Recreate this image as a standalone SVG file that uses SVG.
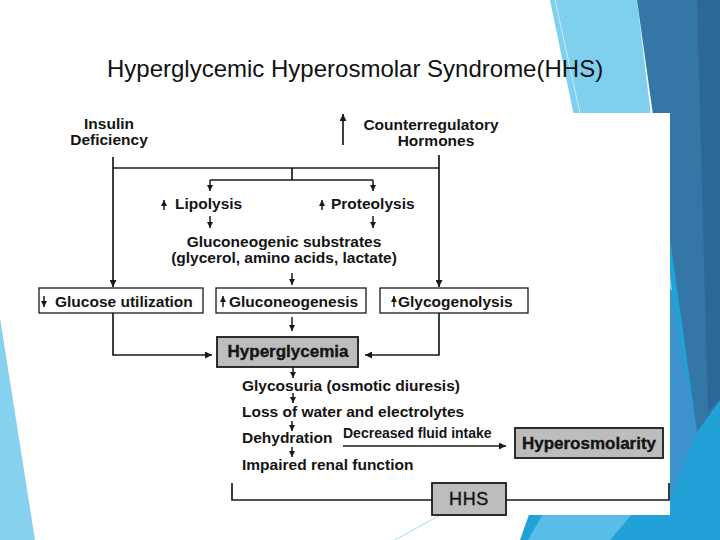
<svg xmlns="http://www.w3.org/2000/svg" width="720" height="540" viewBox="0 0 720 540">
<defs>
<style>
.t{font-family:"Liberation Sans",Arial,sans-serif;font-weight:bold;font-size:15.5px;fill:#141414}
.c{text-anchor:middle}
.big{font-size:17px;stroke:#141414;stroke-width:0.35}
.sm{font-size:14px}
.hhs{font-weight:normal;font-size:18px;stroke:#141414;stroke-width:0.4;letter-spacing:0.6px}
.title{font-family:"Liberation Sans",Arial,sans-serif;font-size:24px;fill:#111}
.ln{fill:none;stroke:#1a1a1a;stroke-width:1.7}
.ar{fill:none;stroke:#1a1a1a;stroke-width:1.7;marker-end:url(#ah)}
.as{fill:none;stroke:#1a1a1a;stroke-width:1.5;marker-end:url(#ahs)}
.box{fill:#fff;stroke:#1a1a1a;stroke-width:1.3}
.gbox{fill:#bdbdbd;stroke:#1a1a1a;stroke-width:1.8}
</style>
<marker id="ah" viewBox="0 0 10 10" refX="10" refY="5" markerWidth="7" markerHeight="7" markerUnits="userSpaceOnUse" orient="auto"><path d="M0,0 L10,5 L0,10 z" fill="#1a1a1a"/></marker>
<marker id="ahs" viewBox="0 0 10 10" refX="10" refY="5" markerWidth="6" markerHeight="6" markerUnits="userSpaceOnUse" orient="auto"><path d="M0,0 L10,5 L0,10 z" fill="#1a1a1a"/></marker>
</defs>
<rect width="720" height="540" fill="#fff"/>
<g id="background">
<polygon points="640,200 720,200 720,540 520,540" fill="#22a0d8"/>
<polygon points="660,230 697,432 662,520" fill="#3d93cd"/>
<polygon points="528,540 548,505 640,505 610,540" fill="#5abde8"/>
<polygon points="550,0 637,0 672,290 610,290" fill="#7fcfee"/>
<polygon points="637,0 720,0 720,400 697,432" fill="#3476a5"/>
<polygon points="697,0 720,0 720,400 708,412" fill="#2c6897"/>
<line x1="555" y1="0" x2="580" y2="113" stroke="#c8ecf9" stroke-width="1"/>
<line x1="395" y1="540" x2="442" y2="514" stroke="#8fcfe9" stroke-width="0.8"/>
<polygon points="0,318 0,540 35,540" fill="#86d1ef"/>
<rect x="35" y="113" width="635" height="402" fill="#fff"/>
</g>
<text class="title" x="107" y="77">Hyperglycemic Hyperosmolar Syndrome(HHS)</text>
<g id="connectors">
<path class="ar" d="M113,157 V287"/>
<path class="ln" d="M113,168 H439"/>
<path class="ar" d="M439,155 V287"/>
<path class="ln" d="M292,168 V180"/>
<path class="ln" d="M210,180 H373"/>
<path class="as" d="M210,180 V191"/>
<path class="as" d="M373,180 V191"/>
<path class="as" d="M210,216 V228"/>
<path class="as" d="M373,216 V228"/>
<path class="as" d="M292,273 V285"/>
<path class="as" d="M292,317 V331"/>
<path class="ar" d="M113,313 V355 H212"/>
<path class="ar" d="M439,313 V355 H365"/>
<path class="as" d="M293,367 V378"/>
<path class="as" d="M293,393 V403"/>
<path class="as" d="M292,421 V431"/>
<path class="as" d="M292,447 V457"/>
<path class="ar" d="M343,446 H506"/>
<path class="ln" d="M232,483 V500 H432"/>
<path class="ln" d="M506,500 H669 V483"/>
</g>
<g id="insulin">
<text class="t c" x="109" y="129">Insulin</text>
<text class="t c" x="109" y="145">Deficiency</text>
</g>
<g id="counterregulatory">
<path class="ar" d="M343,145 V114"/>
<text class="t c" x="431" y="130">Counterregulatory</text>
<text class="t c" x="436" y="146">Hormones</text>
</g>
<g id="lipolysis">
<path class="as" d="M164,210 V200"/>
<text class="t" x="175" y="209">Lipolysis</text>
</g>
<g id="proteolysis">
<path class="as" d="M322,210 V200"/>
<text class="t" x="331" y="209">Proteolysis</text>
</g>
<g id="substrates">
<text class="t c" x="284" y="247">Gluconeogenic substrates</text>
<text class="t c" x="284" y="263">(glycerol, amino acids, lactate)</text>
</g>
<g id="glucose-utilization">
<rect class="box" x="39" y="288" width="164" height="25"/>
<path class="as" d="M44,296 V307"/>
<text class="t" x="55" y="307">Glucose utilization</text>
</g>
<g id="gluconeogenesis">
<rect class="box" x="216" y="288" width="150" height="25"/>
<path class="as" d="M223,307 V296"/>
<text class="t" x="229" y="307">Gluconeogenesis</text>
</g>
<g id="glycogenolysis">
<rect class="box" x="380" y="288" width="148" height="25"/>
<path class="as" d="M394,307 V296"/>
<text class="t" x="398" y="307">Glycogenolysis</text>
</g>
<g id="hyperglycemia">
<rect class="gbox" x="217" y="337" width="141" height="30"/>
<text class="t c big" x="288" y="357">Hyperglycemia</text>
</g>
<g id="glycosuria"><text class="t" x="242" y="391">Glycosuria (osmotic diuresis)</text></g>
<g id="loss"><text class="t" x="242" y="417">Loss of water and electrolytes</text></g>
<g id="dehydration"><text class="t" x="242" y="443">Dehydration</text></g>
<g id="renal"><text class="t" x="242" y="470">Impaired renal function</text></g>
<g id="fluid-label"><text class="t sm" x="343" y="438">Decreased fluid intake</text></g>
<g id="hyperosmolarity">
<rect class="gbox" x="515" y="428" width="148" height="30"/>
<text class="t c big" x="589" y="449">Hyperosmolarity</text>
</g>
<g id="hhs">
<rect class="gbox" x="432" y="483" width="74" height="32"/>
<text class="t c hhs" x="469" y="505">HHS</text>
</g>
</svg>
